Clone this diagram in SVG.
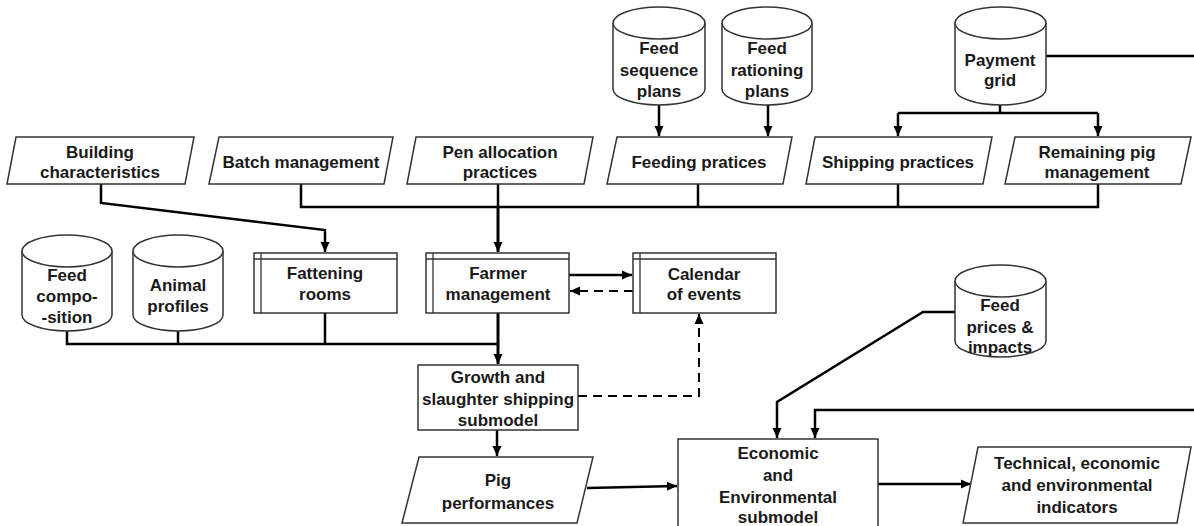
<svg xmlns="http://www.w3.org/2000/svg" width="1194" height="526" viewBox="0 0 1194 526">
<style>
.shape{fill:#fff;stroke:#333;stroke-width:1.5}
.inner{fill:none;stroke:#333;stroke-width:1.3}
.con{fill:none;stroke:#000;stroke-width:2.5}
.thick{stroke-width:3}
.dash{stroke-dasharray:9,6;stroke-width:2}
text{font-family:"Liberation Sans",Arial,sans-serif;font-weight:bold;font-size:17px;fill:#1a1a1a;text-anchor:middle}
</style>
<defs>
<marker id="ah" markerUnits="userSpaceOnUse" markerWidth="10" markerHeight="10" refX="10" refY="5" orient="auto">
<path d="M0,0.5 L10,5 L0,9.5 z" fill="#000"/>
</marker>
</defs>
<rect width="1194" height="526" fill="#fff"/>

<g id="connectors">
<path class="con" d="M659,104 V136" marker-end="url(#ah)"/>
<path class="con" d="M768,104 V136" marker-end="url(#ah)"/>
<path class="con" d="M1000,105 V113"/>
<path class="con" d="M898,113 H1098"/>
<path class="con" d="M898,113 V136" marker-end="url(#ah)"/>
<path class="con" d="M1098,113 V136" marker-end="url(#ah)"/>
<path class="con" d="M1046,56 H1194"/>
<path class="con" d="M301,184 V207 H1098 V184"/>
<path class="con" d="M698,184 V207"/>
<path class="con" d="M898,184 V207"/>
<path class="con" d="M498,184 V207"/>
<path class="con thick" d="M498,207 V252" marker-end="url(#ah)"/>
<path class="con" d="M101,184 V203 L325,230 V252" marker-end="url(#ah)"/>
<path class="con" d="M569,275 H632" marker-end="url(#ah)"/>
<path class="con dash" d="M633,291 H570" marker-end="url(#ah)"/>
<path class="con thick" d="M498,313 V364" marker-end="url(#ah)"/>
<path class="con" d="M67,331 V344 H498"/>
<path class="con" d="M178,331 V344"/>
<path class="con" d="M325,313 V344"/>
<path class="con dash" d="M578,396 H699 V314" marker-end="url(#ah)"/>
<path class="con" d="M497,430 V456" marker-end="url(#ah)"/>
<path class="con" d="M587,488 L677,486" marker-end="url(#ah)"/>
<path class="con" d="M955,312 H923 L777,402 V438" marker-end="url(#ah)"/>
<path class="con" d="M1194,410 H815 V438" marker-end="url(#ah)"/>
<path class="con" d="M878,484 H971" marker-end="url(#ah)"/>
</g>

<g id="feed-sequence-plans">
<path class="shape" d="M613,23 V89 A46,16 0 0 0 705,89 V23"/>
<ellipse class="shape" cx="659" cy="23" rx="46" ry="16"/>
<text x="659" y="54">Feed</text><text x="659" y="76">sequence</text><text x="659" y="97">plans</text>
</g>
<g id="feed-rationing-plans">
<path class="shape" d="M722,23 V89 A45,16 0 0 0 812,89 V23"/>
<ellipse class="shape" cx="767" cy="23" rx="45" ry="16"/>
<text x="767" y="54">Feed</text><text x="767" y="76">rationing</text><text x="767" y="97">plans</text>
</g>
<g id="payment-grid">
<path class="shape" d="M955,23 V89 A45.5,16 0 0 0 1046,89 V23"/>
<ellipse class="shape" cx="1000.5" cy="23" rx="45.5" ry="16"/>
<text x="1000" y="66">Payment</text><text x="1000" y="86">grid</text>
</g>

<g id="building-characteristics">
<polygon class="shape" points="16,137 194,137 185,184 7,184"/>
<text x="100" y="158">Building</text><text x="100" y="178">characteristics</text>
</g>
<g id="batch-management">
<polygon class="shape" points="219,137 393,137 384,184 209,184"/>
<text x="301" y="168">Batch management</text>
</g>
<g id="pen-allocation-practices">
<polygon class="shape" points="416,137 593,137 584,184 407,184"/>
<text x="500" y="158">Pen allocation</text><text x="500" y="178">practices</text>
</g>
<g id="feeding-pratices">
<polygon class="shape" points="617,137 792,137 783,184 607,184"/>
<text x="699" y="168">Feeding pratices</text>
</g>
<g id="shipping-practices">
<polygon class="shape" points="815,137 992,137 983,184 806,184"/>
<text x="898" y="168">Shipping practices</text>
</g>
<g id="remaining-pig-management">
<polygon class="shape" points="1015,137 1191,137 1181,184 1005,184"/>
<text x="1097" y="158">Remaining pig</text><text x="1097" y="178">management</text>
</g>

<g id="feed-composition">
<path class="shape" d="M22,251 V315 A45,16 0 0 0 112,315 V251"/>
<ellipse class="shape" cx="67" cy="251" rx="45" ry="16"/>
<text x="67" y="281">Feed</text><text x="67" y="302">compo-</text><text x="67" y="323">-sition</text>
</g>
<g id="animal-profiles">
<path class="shape" d="M133,251 V315 A45,16 0 0 0 223,315 V251"/>
<ellipse class="shape" cx="178" cy="251" rx="45" ry="16"/>
<text x="178" y="291">Animal</text><text x="178" y="312">profiles</text>
</g>
<g id="fattening-rooms">
<rect class="shape" x="254" y="253" width="143" height="60"/>
<path class="inner" d="M261,253 V313 M254,259 H397"/>
<text x="325" y="279">Fattening</text><text x="325" y="300">rooms</text>
</g>
<g id="farmer-management">
<rect class="shape" x="426" y="253" width="143" height="60"/>
<path class="inner" d="M433,253 V313 M426,259 H569"/>
<text x="498" y="279">Farmer</text><text x="498" y="300">management</text>
</g>
<g id="calendar-of-events">
<rect class="shape" x="633" y="253" width="143" height="60"/>
<path class="inner" d="M640,253 V313 M633,259 H776"/>
<text x="704" y="280">Calendar</text><text x="704" y="300">of events</text>
</g>
<g id="growth-submodel">
<rect class="shape" x="418" y="365" width="160" height="65"/>
<text x="498" y="383">Growth and</text><text x="498" y="405">slaughter shipping</text><text x="498" y="426">submodel</text>
</g>
<g id="feed-prices-impacts">
<path class="shape" d="M955,281 V341 A45.5,16 0 0 0 1046,341 V281"/>
<ellipse class="shape" cx="1000.5" cy="281" rx="45.5" ry="16"/>
<text x="1000" y="311">Feed</text><text x="1000" y="333">prices &amp;</text><text x="1000" y="353">impacts</text>
</g>
<g id="pig-performances">
<polygon class="shape" points="419,457 593,457 577,523 402,523"/>
<text x="498" y="486">Pig</text><text x="498" y="509">performances</text>
</g>
<g id="economic-environmental-submodel">
<rect class="shape" x="678" y="439" width="200" height="100"/>
<text x="778" y="459">Economic</text><text x="778" y="481">and</text><text x="778" y="503">Environmental</text><text x="778" y="523">submodel</text>
</g>
<g id="indicators">
<polygon class="shape" points="978,447 1191,447 1177,523 963,523"/>
<text x="1077" y="469">Technical, economic</text><text x="1077" y="491">and environmental</text><text x="1077" y="513">indicators</text>
</g>
</svg>
